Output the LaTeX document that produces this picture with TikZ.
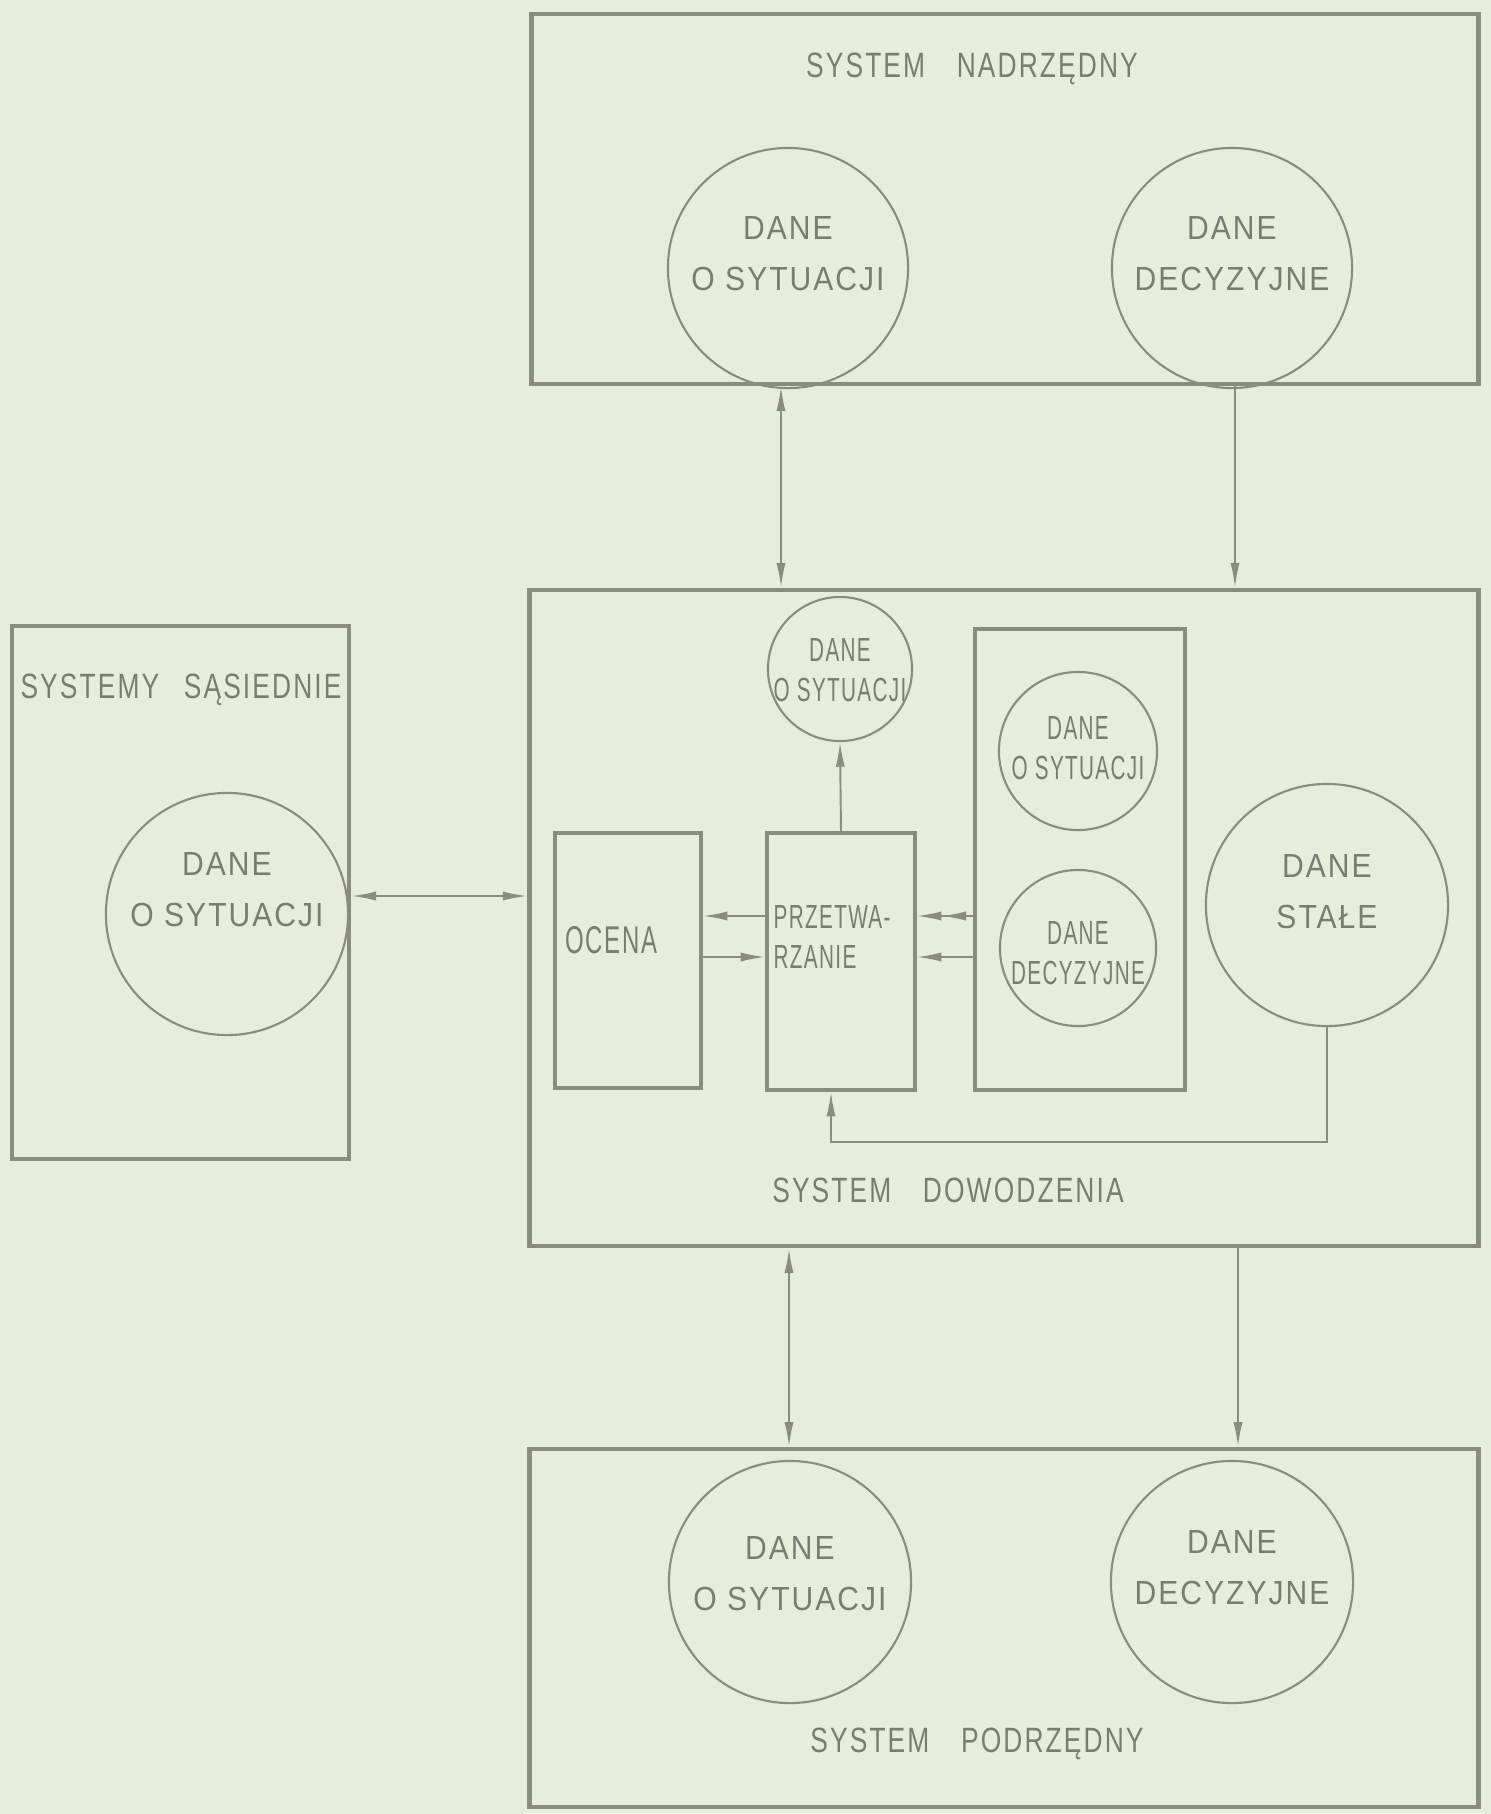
\documentclass[tikz,border=0pt]{standalone}
\usepackage{fontspec}
\setmainfont{Liberation Sans}
\newfontfamily\handw[FakeStretch=0.9,LetterSpace=6]{Liberation Sans}
\newfontfamily\hand[FakeStretch=0.75,LetterSpace=6]{Liberation Sans}
\newfontfamily\handn[FakeStretch=0.62,LetterSpace=4]{Liberation Sans}
\usetikzlibrary{arrows.meta,calc}
\definecolor{paper}{RGB}{230,237,219}
\definecolor{ink}{RGB}{138,140,128}
\definecolor{inkt}{RGB}{122,124,114}
\begin{document}
\begin{tikzpicture}[x=0.01cm,y=-0.01cm,
  >={Latex[length=7pt,width=2.6pt]},
  box/.style={draw=ink,line width=1.3pt,inner sep=0,rectangle},
  ibox/.style={draw=ink,line width=1.0pt,inner sep=0,rectangle},
  circ/.style={draw=ink,line width=0.6pt,circle,inner sep=0},
  wlbl/.style={text=inkt,font=\handw\fontsize{9.5}{14.5}\selectfont,align=center,inner sep=0},
  tlbl/.style={text=inkt,font=\hand\fontsize{10}{14.5}\selectfont,align=center,inner sep=0},
  slbl/.style={text=inkt,font=\handn\fontsize{9.5}{11.5}\selectfont,align=center,inner sep=0},
  conn/.style={draw=ink,line width=0.55pt},
 ]
\fill[paper] (0,0) rectangle (1491,1814);
\useasboundingbox (0,0) rectangle (1491,1814);

% boxes
\node[box,minimum width=9.46cm,minimum height=3.70cm] (top) at (1005,199) {};
\node[box,minimum width=9.48cm,minimum height=6.56cm] (main) at (1004,918) {};
\node[box,minimum width=9.48cm,minimum height=3.58cm] (bot) at (1004,1628) {};
\node[box,minimum width=3.37cm,minimum height=5.33cm] (left) at (180.5,892.5) {};
\node[ibox,minimum width=1.46cm,minimum height=2.55cm] (ocena) at (628,960.5) {};
\node[ibox,minimum width=1.48cm,minimum height=2.57cm] (przetw) at (841,961.5) {};
\node[ibox,minimum width=2.10cm,minimum height=4.61cm] (store) at (1080,859.5) {};

% circles
\node[circ,minimum size=2.40cm] (cNs) at (788,268) {};
\node[circ,minimum size=2.40cm] (cNd) at (1232,268) {};
\node[circ,minimum size=1.44cm] (cMs) at (840,669) {};
\node[circ,minimum size=1.58cm] (cSs) at (1078,751) {};
\node[circ,minimum size=1.56cm] (cSd) at (1078,948) {};
\node[circ,minimum size=2.42cm] (cSt) at (1327,905) {};
\node[circ,minimum size=2.42cm] (cL) at (227,914) {};
\node[circ,minimum size=2.42cm] (cPs) at (790,1582) {};
\node[circ,minimum size=2.42cm] (cPd) at (1232,1582) {};

% texts
\node[tlbl] (tN) at (972,69) {SYSTEM\hspace{0.9em}NADRZĘDNY};
\node[tlbl] (tM) at (948,1190) {SYSTEM\hspace{0.9em}DOWODZENIA};
\node[tlbl] (tP) at (977,1744) {SYSTEM\hspace{0.9em}PODRZĘDNY};
\node[tlbl] (tL) at (181,690) {SYSTEMY\hspace{0.7em}SĄSIEDNIE};
\node[wlbl] (tNs) at (788,254) {DANE\\O SYTUACJI};
\node[wlbl] (tNd) at (1232,254) {DANE\\DECYZYJNE};
\node[slbl] (tMs) at (840,670) {DANE\\O SYTUACJI};
\node[slbl] (tSs) at (1078,748) {DANE\\O SYTUACJI};
\node[slbl] (tSd) at (1078,953) {DANE\\DECYZYJNE};
\node[wlbl] (tSt) at (1327,892) {DANE\\STAŁE};
\node[wlbl] (tLc) at (227,890) {DANE\\O SYTUACJI};
\node[wlbl] (tPs) at (790,1574) {DANE\\O SYTUACJI};
\node[wlbl] (tPd) at (1232,1568) {DANE\\DECYZYJNE};
\node[slbl,anchor=west,font=\handn\fontsize{11}{13}\selectfont] (tO) at (565,940) {OCENA};
\node[slbl,anchor=west,align=left] (tPr) at (773,937) {PRZETWA-\\RZANIE};

% helper coordinates
\coordinate (xTL) at (781,0);
\coordinate (xTR) at (1235,0);
\coordinate (xBL) at (789,0);
\coordinate (xBR) at (1238,0);
\coordinate (yLR) at (0,896);
\coordinate (yU) at (0,916);
\coordinate (yD) at (0,957);
\coordinate (fb) at (831,1142);

% connectors
\draw[conn,<->] (top.south -| xTL) -- (main.north -| xTL);
\draw[conn,->] (top.south -| xTR) -- (main.north -| xTR);
\draw[conn,<->] (main.south -| xBL) -- (bot.north -| xBL);
\draw[conn,->] (main.south -| xBR) -- (bot.north -| xBR);
\draw[conn,<->] (left.east |- yLR) -- (main.west |- yLR);
\draw[conn,->] (przetw.north) -- (cMs.south);
\draw[conn,->] (przetw.west |- yU) -- (ocena.east |- yU);
\draw[conn,->] (ocena.east |- yD) -- (przetw.west |- yD);
\draw[conn,->>] (store.west |- yU) -- (przetw.east |- yU);
\draw[conn,->] (store.west |- yD) -- (przetw.east |- yD);
\draw[conn,->] (cSt.south) |- (fb) -- (fb |- przetw.south);
\end{tikzpicture}
\end{document}
